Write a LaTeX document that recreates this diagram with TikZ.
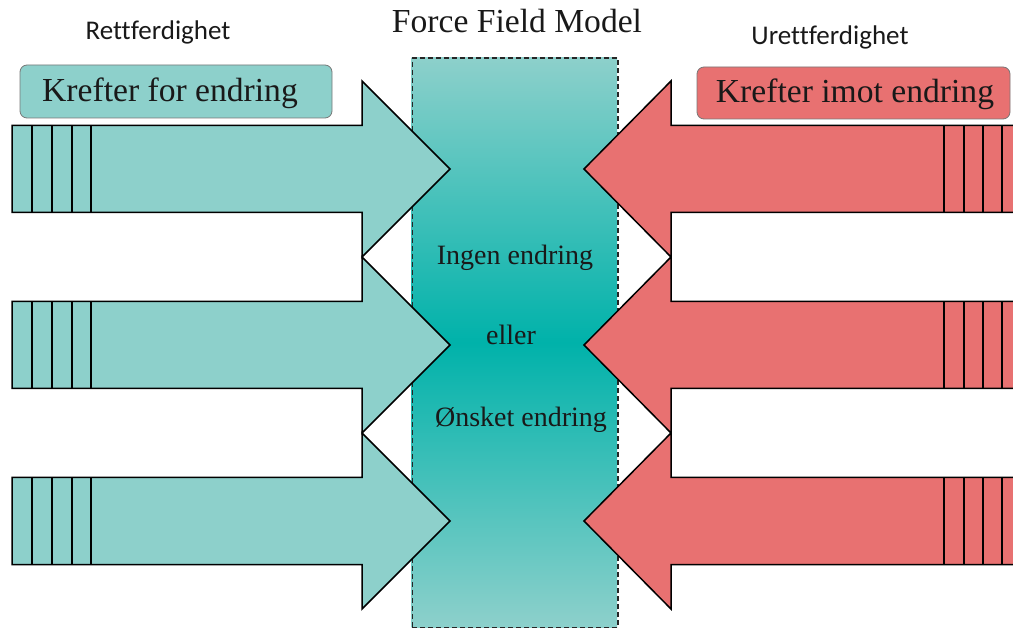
\documentclass[tikz,border=0pt]{standalone}
\usepackage{fontspec}
\setmainfont{Liberation Serif}
\newfontfamily\calibri[Ligatures=NoCommon]{Carlito}
\definecolor{tealarrow}{RGB}{141,208,203}
\definecolor{tealmid}{RGB}{0,178,170}
\definecolor{redarrow}{RGB}{232,113,113}
\definecolor{labelgray}{RGB}{120,120,120}
\definecolor{textdark}{RGB}{25,25,25}
\begin{document}
\begin{tikzpicture}[x=1pt,y=-1pt,
  arrowline/.style={line width=1.5pt,line join=miter,draw=black},
  stripe/.style={line width=1.5pt,draw=black},
  labelbox/.style={draw=labelgray,line width=0.8pt,rounded corners=7pt},
  bigtext/.style={font=\fontsize{33.6}{40}\selectfont,text=textdark,inner sep=0pt,anchor=base},
  midtext/.style={font=\fontsize{28}{34}\selectfont,text=textdark,inner sep=0pt,anchor=base},
  sidetext/.style={font=\calibri\fontsize{27}{32}\selectfont,text=textdark,inner sep=0pt,anchor=base}]
\useasboundingbox (0,0) rectangle (1013,628);
% central field box
\shade[top color=tealarrow,bottom color=tealarrow,middle color=tealmid]
  (411.5,57.5) rectangle (617,627);
\node[draw=black!85,dash pattern=on 5pt off 3pt,line width=1.5pt,minimum width=205.5pt,minimum height=569.5pt,inner sep=0pt,anchor=north west] (field) at (411.5,57.5) {};
% left arrows
\foreach \c in {169,345,521}{
  \path[fill=tealarrow,arrowline] (12,\c-43.5) -- (362,\c-43.5) -- (362,\c-88) -- (450,\c) -- (362,\c+88) -- (362,\c+43.5) -- (12,\c+43.5) -- cycle;
  \foreach \x in {32,52,72,91}{\draw[stripe] (\x,\c-43.5) -- (\x,\c+43.5);}
}
% right arrows
\foreach \c in {169,345,521}{
  \fill[redarrow] (1014,\c-43.5) -- (671,\c-43.5) -- (671,\c-88) -- (584,\c) -- (671,\c+88) -- (671,\c+43.5) -- (1014,\c+43.5) -- cycle;
  \draw[arrowline] (1014,\c-43.5) -- (671,\c-43.5) -- (671,\c-88) -- (584,\c) -- (671,\c+88) -- (671,\c+43.5) -- (1014,\c+43.5);
  \foreach \x in {944,964,983,1002}{\draw[stripe] (\x,\c-43.5) -- (\x,\c+43.5);}
}
% label boxes
\path[labelbox,fill=tealarrow] (20,65) rectangle (332,118);
\path[labelbox,fill=redarrow] (697,67) rectangle (1010,119);
\node[bigtext] (forlabel) at (170,102) {Krefter for endring};
\node[bigtext] (motlabel) at (855,103) {Krefter imot endring};
% titles
\node[bigtext] (title) at (517,33) {Force Field Model};
\node[sidetext] (rett) at (158,40) {Rettferdighet};
\node[sidetext] (urett) at (830,45) {Urettferdighet};
% centre text
\node[midtext] (ingen) at (515,265) {Ingen endring};
\node[midtext] (eller) at (511,345) {eller};
\node[midtext] (onsket) at (521,427) {Ønsket endring};
\end{tikzpicture}
\end{document}
